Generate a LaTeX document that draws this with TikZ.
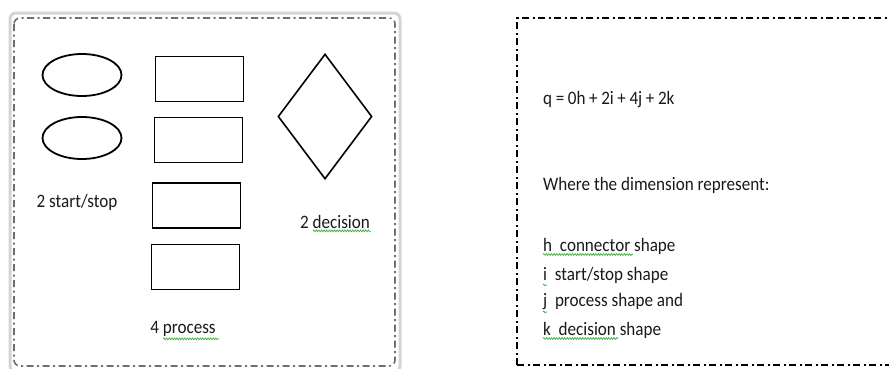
\documentclass[tikz,border=0pt]{standalone}
\usepackage{fontspec}
\setmainfont{Carlito}[FakeStretch=0.9]
\usetikzlibrary{positioning,shapes.geometric,decorations.pathmorphing}
\definecolor{framegray}{HTML}{D4D4D4}
\definecolor{dashgray}{HTML}{6E6E6E}
\definecolor{textnavy}{HTML}{1A1A1A}
\definecolor{spellgreen}{HTML}{3FAE3F}
\tikzset{
  startstop/.style={ellipse,draw=black,line width=1.8pt,minimum width=79pt,minimum height=42pt,inner sep=0pt},
  processbox/.style={rectangle,draw=black,line width=1.8pt,minimum width=88pt,minimum height=45pt,inner sep=0pt},
  decision/.style={diamond,draw=black,line width=1.6pt,minimum width=94pt,minimum height=125pt,inner sep=0pt,aspect=0.75},
  dashdot/.style={line width=1.6pt,dash pattern=on 7pt off 3.5pt on 2pt off 3.5pt},
  label/.style={font=\fontsize{19}{22}\selectfont,text=textnavy,inner sep=0pt},
  spell/.style={draw=spellgreen,line width=0.7pt,decorate,decoration={snake,amplitude=0.9pt,segment length=2.6pt}}
}
\newcommand{\eqsp}{\hskip 3.6pt}
\begin{document}
\begin{tikzpicture}[x=1pt,y=-1pt]
  \useasboundingbox (0,0) rectangle (889,368);
  % left panel
  \draw[framegray,line width=3pt,rounded corners=6pt] (10,13) rectangle (400,372);
  \draw[dashgray,dashdot,rounded corners=6pt] (14,18) rectangle (395,366);
  \node[startstop] (ss1) at (82,75) {};
  \node[startstop] (ss2) at (82,138) {};
  \node[processbox] (p1) at (199.5,79) {};
  \node[processbox] (p2) at (198.5,140) {};
  \node[processbox] (p3) at (196.5,205.5) {};
  \node[processbox] (p4) at (195.5,267) {};
  \node[decision] (dec) at (325,116.5) {};
  \node[label] (ssl) at (77,202) {2 start/stop};
  \node[label] (decl) at (335,222) {2 decision};
  \node[label] (procl) at (183,329) {4 process};
  \draw[spell] (procl.south west) ++(13,2) coordinate (u1) -- ++(56,0);
  \draw[spell] (decl.south west) ++(13,2) coordinate (u2) -- ++(58,0);
  % right panel
  \draw[dashdot] (517,365) -- (517,18) -- (895,18);
  \draw[dashdot] (517,365) -- (895,365);
  \node[label,anchor=west] (eq) at (543,100) {q\eqsp=\eqsp0h\eqsp+\eqsp2i\eqsp+\eqsp4j\eqsp+\eqsp2k};
  \node[label,anchor=west] (where) at (543,185) {Where the dimension represent:};
  \node[label,anchor=west] (hdim) at (543,246) {h\ \ connector shape};
  \node[label,anchor=west] (idim) at (543,275) {i\ \ start/stop shape};
  \node[label,anchor=west] (jdim) at (543,302) {j\ \ process shape and};
  \node[label,anchor=west] (kdim) at (543,330) {k\ \ decision shape};
  \draw[spell] (543,254.5) -- (633,254.5);
  \draw[spell] (543,285) -- (547,285);
  \draw[spell] (543,312) -- (547,312);
  \draw[spell] (543,338.5) -- (618,338.5);
\end{tikzpicture}
\end{document}
